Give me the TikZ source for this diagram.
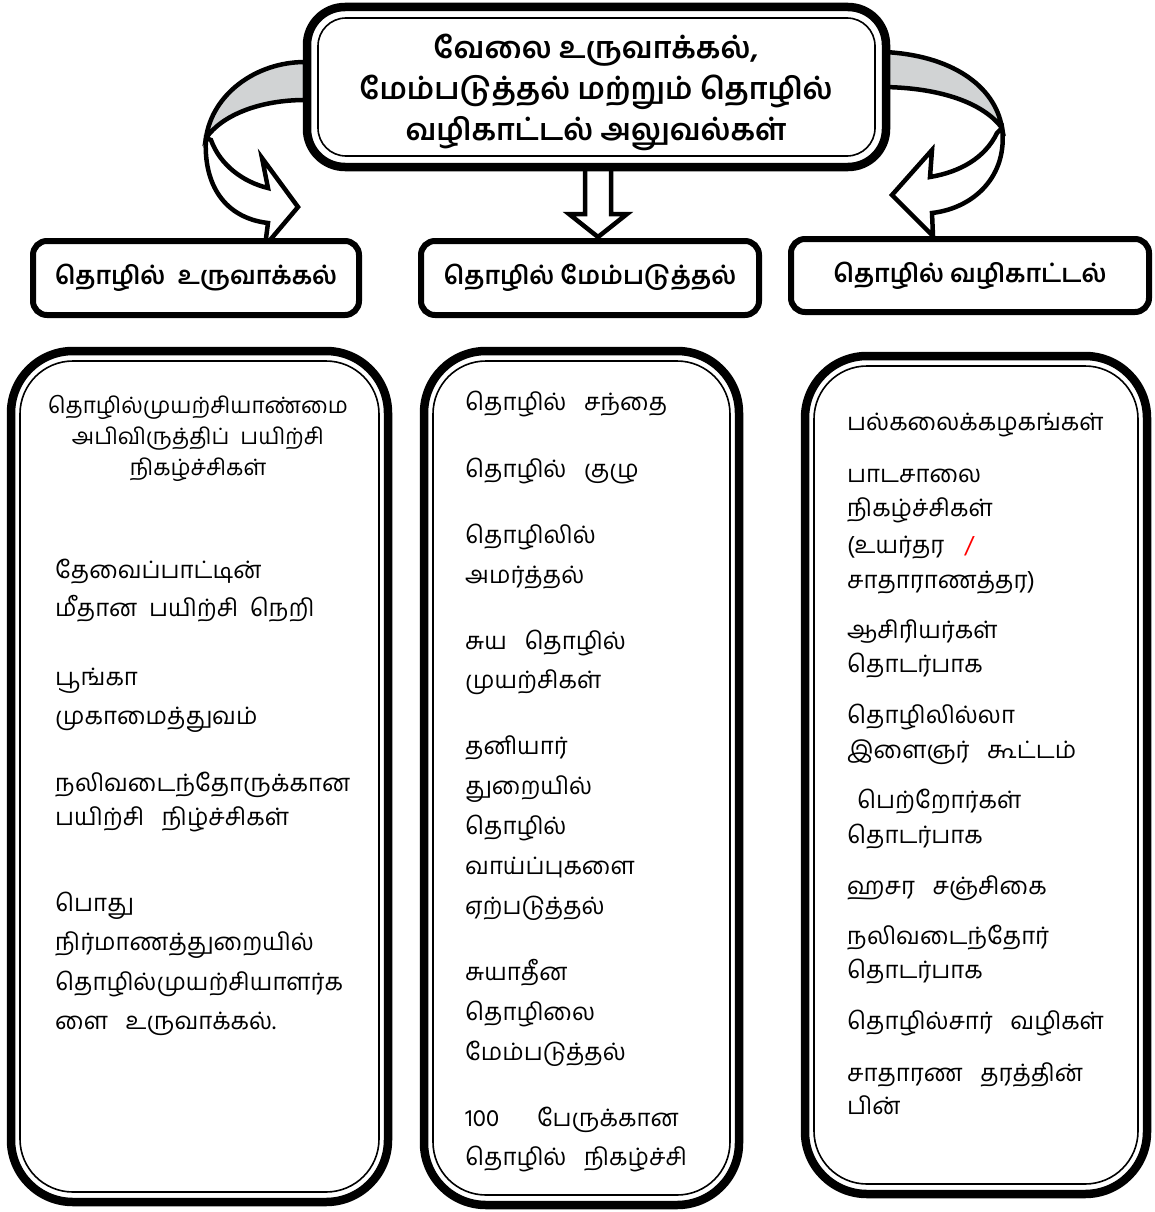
\documentclass[tikz,border=0pt]{standalone}
\usepackage{fontspec}
\newfontfamily\tamil[Script=Tamil]{Hind Madurai}
\tikzset{
  x=1pt, y=-1pt,
  body/.style={font=\tamil\fontsize{24}{24}\selectfont, anchor=base west, inner sep=0pt},
  bodyc/.style={body, anchor=base, font=\tamil\fontsize{22.5}{22.5}\selectfont},
  titletext/.style={font=\tamil\bfseries\fontsize{30}{41}\selectfont, align=center, inner sep=0pt},
  hdrbox/.style={draw=black, fill=white, line width=6pt, rounded corners=14pt, inner sep=0pt,
    font=\tamil\bfseries\fontsize{25}{25}\selectfont},
  thickbox/.style={draw=black, fill=white, line width=8.5pt, inner sep=0pt},
  thinbox/.style={draw=black, line width=1.6pt, inner sep=0pt},
  arrowpart/.style={draw=black, line width=4.5pt, line join=miter, miter limit=10},
  grayband/.style={arrowpart, fill=bandgray},
  whiteband/.style={arrowpart, fill=white},
}
\definecolor{bandgray}{HTML}{D1D3D4}
\newcommand\tline[4]{\node[body] (#1) at (#2,#3) {#4};}
\begin{document}
\begin{tikzpicture}
\useasboundingbox[fill=white] (0,0) rectangle (1154,1212);

% ---------- curved arrows and central arrow ----------
% left
\coordinate (lA) at (206,138);
\draw[whiteband] (lA) .. controls (203,185) and (225,218) .. (268,223)
  -- (265,246) -- (298,207) -- (262,158) -- (268,188)
  .. controls (243,182) and (220,165) .. (211,140) -- cycle;
\draw[grayband] (305,62) .. controls (255,62) and (212,95) .. (lA)
  .. controls (222,115) and (260,100) .. (305,100) -- cycle;
% right
\coordinate (rA) at (1002,128);
\draw[whiteband] (rA) .. controls (1008,175) and (975,208) .. (932,213)
  -- (933,236) -- (892,195) -- (932,150) -- (930,177)
  .. controls (960,172) and (985,158) .. (997,133) -- cycle;
\draw[grayband] (884,52) .. controls (950,55) and (995,85) .. (rA)
  .. controls (985,105) and (945,88) .. (884,87) -- cycle;
% central
\coordinate (cT) at (598,160);
\draw[whiteband] (585,160) -- (585,214) -- (569,214) -- (598,237) -- (627,214) -- (611,214) -- (611,160) -- cycle;

% ---------- top box ----------
\node[thickbox, rounded corners=38pt, minimum width=579pt, minimum height=160pt] (top) at (596.5,87) {};
\node[thinbox, rounded corners=28pt, minimum width=557pt, minimum height=138pt] (topin) at (top.center) {};
\node[titletext] (title) at (596,92) {வேலை உருவாக்கல்,\\மேம்படுத்தல் மற்றும் தொழில்\\வழிகாட்டல் அலுவல்கள்};

% ---------- header boxes ----------
\node[hdrbox, minimum width=326pt, minimum height=74pt] (h1) at (196,278) {தொழில் \ உருவாக்கல்};
\node[hdrbox, minimum width=338pt, minimum height=74pt] (h2) at (590,278) {தொழில் மேம்படுத்தல்};
\node[hdrbox, minimum width=358pt, minimum height=73pt] (h3) at (970,275.5) {தொழில் வழிகாட்டல்};

% ---------- lower boxes ----------
\node[thickbox, rounded corners=62pt, minimum width=377pt, minimum height=851pt] (b1) at (199.5,776.5) {};
\node[thinbox, rounded corners=53pt, minimum width=359pt, minimum height=831pt] (b1in) at (b1.center) {};
\node[thickbox, rounded corners=62pt, minimum width=315pt, minimum height=854pt] (b2) at (581.5,778) {};
\node[thinbox, rounded corners=53pt, minimum width=297pt, minimum height=834pt] (b2in) at (b2.center) {};
\node[thickbox, rounded corners=62pt, minimum width=342pt, minimum height=838pt] (b3) at (976,775) {};
\node[thinbox, rounded corners=53pt, minimum width=324pt, minimum height=818pt] (b3in) at (b3.center) {};

% ---------- left box text ----------
\node[bodyc] (l1) at (198,413) {தொழில்முயற்சியாண்மை};
\node[bodyc] (l2) at (198,444) {அபிவிருத்திப் \ பயிற்சி};
\node[bodyc] (l3) at (198,475) {நிகழ்ச்சிகள்};
\tline{l4}{55}{578}{தேவைப்பாட்டின்}
\tline{l5}{55}{616}{மீதான \ பயிற்சி \ நெறி}
\tline{l6}{55}{685}{பூங்கா}
\tline{l7}{55}{724}{முகாமைத்துவம்}
\tline{l8}{55}{791}{நலிவடைந்தோருக்கான}
\tline{l9}{55}{825}{பயிற்சி \ \ நிழ்ச்சிகள்}
\tline{l10}{55}{911}{பொது}
\tline{l11}{55}{950}{நிர்மாணத்துறையில்}
\tline{l12}{55}{990}{தொழில்முயற்சியாளர்க}
\tline{l13}{55}{1029}{ளை \ \ உருவாக்கல்.}

% ---------- middle box text ----------
\tline{m1}{465}{410}{தொழில் \ \ சந்தை}
\tline{m2}{465}{477}{தொழில் \ \ குழு}
\tline{m3}{465}{543}{தொழிலில்}
\tline{m4}{465}{583}{அமர்த்தல்}
\tline{m5}{465}{649}{சுய \ \ தொழில்}
\tline{m6}{465}{688}{முயற்சிகள்}
\tline{m7}{465}{754}{தனியார்}
\tline{m8}{465}{794}{துறையில்}
\tline{m9}{465}{834}{தொழில்}
\tline{m10}{465}{874}{வாய்ப்புகளை}
\tline{m11}{465}{914}{ஏற்படுத்தல்}
\tline{m12}{465}{980}{சுயாதீன}
\tline{m13}{465}{1020}{தொழிலை}
\tline{m14}{465}{1060}{மேம்படுத்தல்}
\tline{m15}{465}{1126}{100\hspace{38pt}பேருக்கான}
\tline{m16}{465}{1165}{தொழில் \ \ நிகழ்ச்சி}

% ---------- right box text ----------
\tline{r1}{847}{430}{பல்கலைக்கழகங்கள்}
\tline{r2}{847}{482}{பாடசாலை}
\tline{r3}{847}{516}{நிகழ்ச்சிகள்}
\tline{r4}{847}{553}{(உயர்தர\hspace{20pt}\textcolor{red}{/}}
\tline{r5}{847}{588}{சாதாராணத்தர)}
\tline{r6}{847}{638}{ஆசிரியர்கள்}
\tline{r7}{847}{672}{தொடர்பாக}
\tline{r8}{847}{723}{தொழிலில்லா}
\tline{r9}{847}{758}{இளைஞர் \ \ கூட்டம்}
\tline{r10}{857}{808}{பெற்றோர்கள்}
\tline{r11}{847}{843}{தொடர்பாக}
\tline{r12}{847}{894}{ஹசர \ \ சஞ்சிகை}
\tline{r13}{847}{944}{நலிவடைந்தோர்}
\tline{r14}{847}{978}{தொடர்பாக}
\tline{r15}{847}{1029}{தொழில்சார் \ \ வழிகள்}
\tline{r16}{847}{1081}{சாதாரண \ \ தரத்தின்}
\tline{r17}{847}{1114}{பின்}
\end{tikzpicture}
\end{document}
